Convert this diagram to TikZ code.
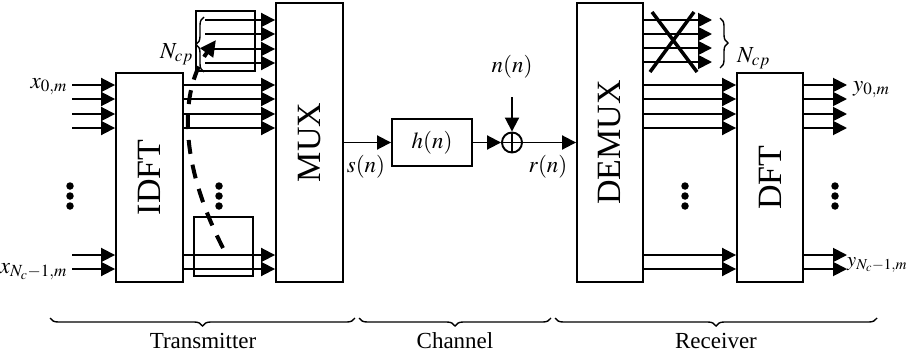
\documentclass[tikz,border=0pt]{standalone}
\usepackage{mathptmx}
\usepackage{fontspec}
\setmainfont{Liberation Serif}
\usetikzlibrary{arrows.meta,decorations.pathreplacing,calc}
\begin{document}
\begin{tikzpicture}[x=1pt,y=-1pt,
  box/.style={draw, line width=1.9pt, inner sep=0pt},
  arr/.style={line width=1.9pt, -{Triangle[length=14pt,width=14pt]}},
  big/.style={font=\fontsize{34}{34}\selectfont, inner sep=0pt},
  lab/.style={font=\fontsize{23}{23}\selectfont, inner sep=0pt},
  dotc/.style={circle, fill, inner sep=0pt, minimum size=7.5pt},
  brc/.style={decorate, decoration={brace, amplitude=8pt}, line width=1.4pt},
  brcm/.style={decorate, decoration={brace, mirror, amplitude=8pt}, line width=1.4pt}
]
\useasboundingbox (0,0) rectangle (907,359);

% blocks
\node[box, minimum width=67pt, minimum height=209pt] (idft) at (149.5,177.5) {};
\node[big, rotate=90] (idftl) at (idft.center) {IDFT};
\node[box, minimum width=67pt, minimum height=279pt] (mux) at (309.5,142.5) {};
\node[big, rotate=90] (muxl) at (mux.center) {MUX};
\node[box, minimum width=66pt, minimum height=279pt] (demux) at (610,142.5) {};
\node[big, rotate=90] (demuxl) at (demux.center) {DEMUX};
\node[box, minimum width=66pt, minimum height=209pt] (dft) at (770,177.5) {};
\node[big, rotate=90] (dftl) at (dft.center) {DFT};
\node[box, minimum width=59pt, minimum height=60pt] (cptop) at (225.5,41) {};
\node[box, minimum width=59pt, minimum height=59pt] (cpbot) at (223.5,246.5) {};
\node[box, minimum width=80pt, minimum height=47pt, font=\fontsize{23}{23}\selectfont] (hn) at (432,142.5) {$h(n)$};
\node[draw, circle, line width=1.9pt, minimum size=20pt, inner sep=0pt] (sum) at (512,142.5) {};
\draw[line width=1.4pt] (sum.north) -- (sum.south) (sum.west) -- (sum.east);

% transmitter lines
\foreach \y in {85,99,114,128,255,269} {
  \coordinate (in\y) at (72,\y);
  \draw[arr] (in\y) -- (idft.west |- in\y);
  \draw[arr] (idft.east |- in\y) -- (mux.west |- in\y);
}
\foreach \y in {20,34,49,63} {
  \coordinate (cp\y) at (205,\y);
  \draw[arr] (cp\y) -- (mux.west |- cp\y);
}
\draw[brcm] (204,17) -- (204,72);

% dashed copy arrow
\coordinate (ds) at (223,248);
\coordinate (de) at (216,40);
\draw[line width=4pt, dash pattern=on 14pt off 11pt, -{Triangle[length=16pt,width=15pt]}]
  (ds) .. controls (178,160) and (180,90) .. (de);

% channel
\draw[arr] (mux.east) -- (hn.west);
\draw[arr] (hn.east) -- (sum.west);
\draw[arr] (sum.east) -- (demux.west |- sum.east);
\coordinate (nz) at (512,97);
\draw[arr] (nz) -- (sum.north);

% receiver
\foreach \y in {20,34,48,62} {
  \coordinate (ro\y) at (712,\y);
  \draw[arr] (demux.east |- ro\y) -- (ro\y);
}
\draw[line width=3.5pt] (650,72) -- (694,12) (652,12) -- (697,72);
\draw[brc] (720,18) -- (720,68);
\foreach \y in {85,99,114,128,255,269} {
  \coordinate (out\y) at (847,\y);
  \draw[arr] (demux.east |- out\y) -- (dft.west |- out\y);
  \draw[arr] (dft.east |- out\y) -- (out\y);
}

% dots
\foreach \x in {70,219,685,835} {
  \foreach \y in {186,196,206} {
    \node[dotc] (d\x-\y) at (\x,\y) {};
  }
}

% labels
\node[lab, anchor=base east] (x0) at (67,88) {$x_{0,m}$};
\node[lab, anchor=base east] (xN) at (67,273) {$x_{N_c-1,m}$};
\node[lab, anchor=base west] (y0) at (853,91) {$y_{0,m}$};
\node[lab, anchor=base west, font=\fontsize{20.5}{20.5}\selectfont] (yN) at (847,266) {$y_{N_c-1,m}$};
\node[lab, anchor=base east] (ncpl) at (193,58) {$N_{cp}$};
\node[lab, anchor=base west] (ncpr) at (737,62) {$N_{cp}$};
\node[lab] (sl) at (366,167) {$s(n)$};
\node[lab] (rl) at (548,167) {$r(n)$};
\node[lab] (nl) at (512,67) {$n(n)$};

% section braces
\draw[brcm] (50,318) -- (355,318);
\draw[brcm] (359,318) -- (551,318);
\draw[brcm] (555,318) -- (877,318);
\node[lab] (tx) at (203,341) {Transmitter};
\node[lab] (ch) at (455,341) {Channel};
\node[lab] (rx) at (716,341) {Receiver};
\end{tikzpicture}
\end{document}
